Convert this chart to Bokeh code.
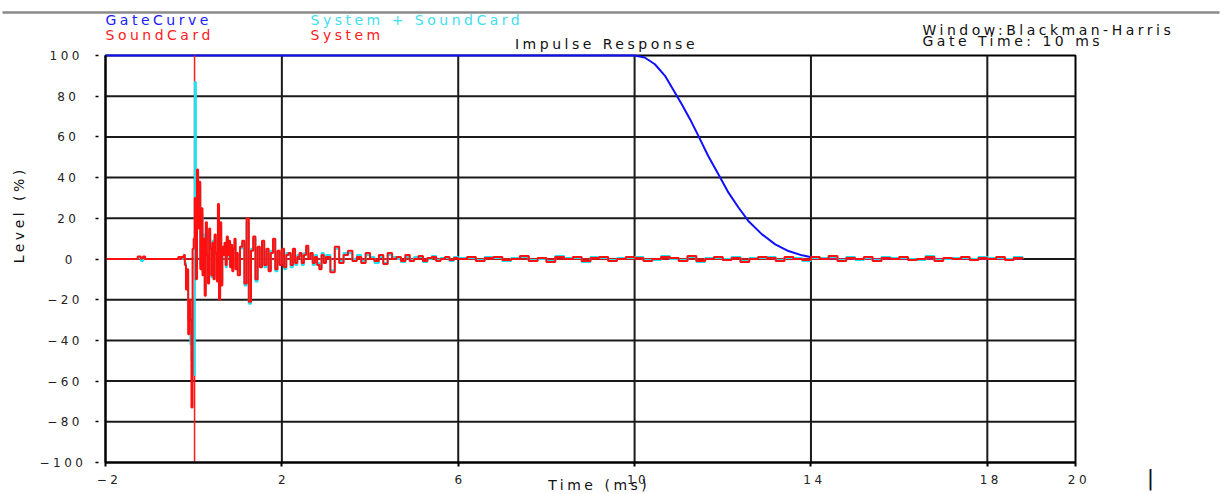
import numpy as np
from bokeh.plotting import figure
from bokeh.models import Range1d, FixedTicker, Label, InlineStyleSheet, LinearAxis
from bokeh.embed import file_html
from bokeh.resources import INLINE

FONT = "DejaVu Sans"

# ---------------- data ----------------
x_ticks = [-2, 2, 6, 10, 14, 18, 20]
y_ticks = [-100, -80, -60, -40, -20, 0, 20, 40, 60, 80, 100]
x_grid = [2, 6, 10, 14, 18]
y_grid = [-80, -60, -40, -20, 0, 20, 40, 60, 80]

# Gate curve (Blackman-Harris, 10 ms)
gate_t = [-2.0, 10.0, 10.23, 10.46, 10.69, 10.88, 11.07, 11.26, 11.45, 11.67, 11.9,
          12.13, 12.36, 12.58, 12.89, 13.19, 13.49, 13.8, 13.98, 14.2, 18.8]
gate_v = [100, 100, 99, 95.7, 90, 83, 76, 68.6, 60.4, 50.6, 41.6,
          32.6, 25.2, 18.7, 12.1, 7.2, 3.9, 1.8, 1.0, 0, 0]

# SoundCard (loopback spike, off scale)
sc_t = [-2.0, 0.02, 0.02, 0.02, 0.02, 18.8]
sc_v = [0, 0, 300, -300, 0, 0]

# pre-impulse segment (explicit times)
pre_t = [-2.0, -1.30, -1.27, -1.20, -1.15, -1.10, -0.35]
pre_red = [0, 0, 1.2, 0.3, 1.2, 0, 1]
pre_cyan = [0, 0, 0.5, -1.0, 0.5, 0, 0.5]

# segment A: from -0.30 ms, every 0.025 ms
red_A = [0, 1, 1, 2, -3, -15, -5, -37, -20, -30,
         -73, 5, 10, 30, -10, 44, 15, 38, -5, 25,
         -8, 10, -18, 18, 2, -12, 15, 5, -8, 8,
         -10, 12, 3, -11, 27, -20, 18, -13, 6, 2,
         8, -3, 11, 2, 9, -4, 7, -6, 5, 10,
         -5, 3]
cyan_A = [0, 0, 1, 1, -2, -14, -8, -30, -25, -42,
          -50, -20, -57, 87, 5, 43, 20, 36, -3, 22,
          -6, 12, -15, 16, 4, -10, 13, 6, -9, 9,
          -8, 11, 2, -9, 25, -18, 16, -11, 5, 3,
          7, -4, 10, 1, 8, -3, 6, -5, 4, 9,
          -4, 2]
# segment B: from 1.0 ms, every 0.05 ms
red_B = [-8, 6, 9, -12, 20, -21, 4, 11, -10, 6,
         -4, 9, -3, 5, -6, 3, 10, -5, 4, -3,
         5, -4, 2, 3, -3, 5, -2, 1, 3, -2,
         2, 6.5, 0, 3, -2, 1, -3, -5, 2, -2]
cyan_B = [-6, 5, 8, -13, 18, -22, 5, 10, -11, 5,
          -3, 8, -4, 4, -5, 4, 9, -6, 3, -2,
          4, -5, 3, 2, -4, 4, -3, 2, 2, -3,
          3, 5.5, 1, 2, -3, 2, -2, -4, 3, -1]
# segment C: from 3.0 ms, every 0.1 ms
red_C = [1, -6.5, 6, -2, 2, 4, -1, 1, -2, 3,
         0, -1, 2, -2.5, 3, 0, 1, -1, 2, -1,
         0, 1.5, -1, 0.5, 1, -1, 0, 1, -0.5, 0.5]
cyan_C = [2, -5.5, 5, -1, 3, 3, 0, 2, -1, 2,
          1, -2, 1, -2, 2, 1, 0, -1.5, 1, -0.5,
          1, 1, -1.5, 0, 1.5, -0.5, 0.5, 0.5, -1, 1]
# segment D: from 6.0 ms, every 0.2 ms
red_D = [0, 1, -1, 0.5, 1, -0.5, 0, 1.5, -1, 0.5,
         -1.5, 1, 0, 1, -1, 0.5, 1, -1, 0, 1,
         0.5, -1, 0, 1, 0.5, -1, 1.5, -1, 0, 1,
         -0.5, 0.5, -1.5, 0, 1, 0.5, -1, 1, 0, -0.5,
         1, 0, 1.5, -1, 0.5, 0, 1, -1, 0.5, 0,
         1, -0.5, 0, 1, -1, 0.5, 0, 1, -0.5, 0.5,
         0, 1, -0.5, 0.5, 0]
cyan_D = [0.5, 0.5, -0.5, 1, 0.5, -1, 0.5, 1, -0.5, 0,
          -1, 1.5, 0.5, 0.5, -1.5, 1, 0.5, -0.5, 0.5, 0.5,
          1, -0.5, -0.5, 1.5, 0, -0.5, 1, -1.5, 0.5, 0.5,
          0, 1, -1, 0.5, 0.5, 1, -0.5, 0.5, 0.5, -1,
          0.5, 0.5, 1, -0.5, 1, -0.5, 0.5, -0.5, 1, 0.5,
          0.5, 0, -0.5, 1.5, -0.5, 0, 0.5, 0.5, 0, 1,
          0.5, 0.5, 0, 1, 0]

segments = [(-0.30, 0.025, red_A, cyan_A), (1.0, 0.05, red_B, cyan_B),
            (3.0, 0.1, red_C, cyan_C), (6.0, 0.2, red_D, cyan_D)]

t_all = list(pre_t)
red_all = list(pre_red)
cyan_all = list(pre_cyan)
for start, step, r, c in segments:
    assert len(r) == len(c)
    t_all += list(np.round(start + step * np.arange(len(r)), 4))
    red_all += r
    cyan_all += c

# ---------------- layout (pixels) ----------------
W, H = 1221, 494
FRAME_L, FRAME_R, FRAME_T, FRAME_B = 105, 1075, 55, 462
xmin, xmax = x_ticks[0], x_ticks[-1]
ymin, ymax = y_ticks[0], y_ticks[-1]
ppx = (FRAME_R - FRAME_L) / (xmax - xmin)
ppy = (FRAME_B - FRAME_T) / (ymax - ymin)
x_start = xmin - FRAME_L / ppx
x_end = x_start + W / ppx
y_end = ymax + FRAME_T / ppy
y_start = y_end - H / ppy

def px_x(x):  # page pixel -> data x
    return x_start + x / ppx

def px_y(y):  # page pixel -> data y
    return y_end - y / ppy

p = figure(width=W, height=H, x_range=Range1d(x_start, x_end), y_range=Range1d(y_start, y_end),
           output_backend="svg", toolbar_location=None, title=None,
           x_axis_type=None, y_axis_type=None, min_border=0)
p.stylesheets = [InlineStyleSheet(css=":host { letter-spacing: 3.5px; }")]
p.background_fill_color = "white"
p.border_fill_color = "white"
p.outline_line_color = None

xax = LinearAxis(fixed_location=ymin, bounds=(xmin, xmax), ticker=FixedTicker(ticks=x_ticks))
yax = LinearAxis(fixed_location=xmin, bounds=(ymin, ymax), ticker=FixedTicker(ticks=y_ticks))
for ax in (xax, yax):
    ax.axis_line_color = "black"
    ax.axis_line_width = 2
    ax.minor_tick_line_color = None
    ax.major_label_text_font = FONT
    ax.major_label_text_font_size = "12px"
    ax.major_label_text_color = "#222222"
    ax.major_tick_in = 0
xax.major_tick_out = 4
xax.major_tick_line_width = 2
xax.major_label_standoff = 8
yax.major_tick_out = 10
yax.major_tick_line_dash = "3 7"
yax.major_tick_line_width = 1.5
yax.major_label_standoff = 23
p.add_layout(xax, "below")
p.add_layout(yax, "left")

# window border line at the top
border_y = px_y(12)
p.line([px_x(2), px_x(W - 2)], [border_y, border_y], line_color="#8a8a8a", line_width=2.5)

# plot box and grid
p.quad(left=xmin, right=xmax, bottom=ymin, top=ymax, fill_color=None,
       line_color="black", line_width=2)
p.segment(x0=x_grid, y0=[ymin] * len(x_grid), x1=x_grid, y1=[ymax] * len(x_grid),
          line_color="#1a1a1a", line_width=2)
p.segment(x0=[xmin] * len(y_grid), y0=y_grid, x1=[xmax] * len(y_grid), y1=y_grid,
          line_color="#1a1a1a", line_width=2)

# traces (clipped to the plot box like the original)
p.line(gate_t, gate_v, line_color="#1010ff", line_width=2)
p.line(sc_t, np.clip(sc_v, ymin, ymax), line_color="#ff1a1a", line_width=1.5)
p.step(t_all, cyan_all, mode="after", line_color="#22e0f0", line_width=2)
p.step(t_all, red_all, mode="after", line_color="#ff1010", line_width=2)

def lab(x, y, text, color="#111111", size="14px", align="left", angle=0):
    p.add_layout(Label(x=px_x(x), y=px_y(y), text=text, text_color=color, text_font=FONT,
                       text_font_size=size, text_align=align, text_baseline="middle",
                       angle=angle))

lab(105, 19, "GateCurve", "#2020ff")
lab(105, 34, "SoundCard", "#ff2020")
lab(310, 19, "System + SoundCard", "#40e0f0")
lab(310, 34, "System", "#ff2020")
lab(922, 29, "Window:Blackman-Harris")
lab(922, 40, "Gate Time: 10 ms")
lab(578, 43, "Impulse Response", align="center")
lab(583, 484, "Time (ms)", align="center")
lab(18, 230, "Level (%)", align="center", angle=np.pi / 2)
lab(1150, 477, "|", size="22px", align="center")

open("out.html", "w").write(file_html(p, INLINE))
